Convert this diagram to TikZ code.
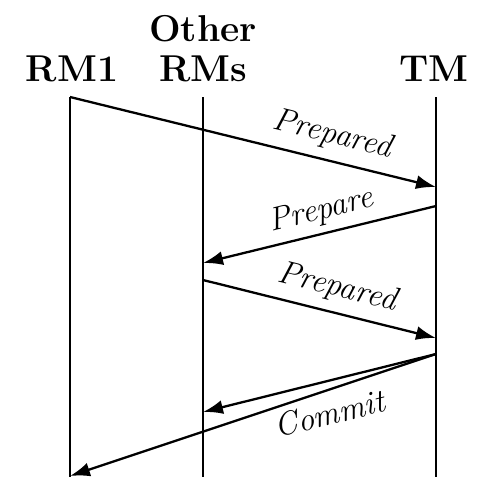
\documentclass[tikz,border=0pt]{standalone}
\usetikzlibrary{arrows.meta}
\begin{document}
\begin{tikzpicture}[x=0.5pt,y=-0.5pt,
  hdr/.style={font=\fontsize{18.7}{20}\selectfont\bfseries, align=center, inner sep=0pt, text depth=0pt, anchor=south},
  life/.style={line width=1.15pt},
  msg/.style={line width=1.15pt, -{Latex[length=10pt,width=7pt]}},
  lbl/.style={font=\fontsize{16.4}{18}\selectfont\itshape, sloped, inner sep=0pt}]
\useasboundingbox (0,0) rectangle (502,494);
% headers
\node[hdr] (h1) at (72,82) {RM1};
\node[hdr] (h2) at (203,82) {Other\\RMs};
\node[hdr] (h3) at (434,82) {TM};
% lifelines
\coordinate (a0) at (70,97);  \coordinate (a1) at (70,477);
\coordinate (b0) at (203,97); \coordinate (b1) at (203,477);
\coordinate (c0) at (436,97); \coordinate (c1) at (436,477);
\draw[life] (a0) -- (a1);
\draw[life] (b0) -- (b1);
\draw[life] (c0) -- (c1);
% message points
\coordinate (m1s) at (70,97);   \coordinate (m1e) at (436,187);
\coordinate (m2s) at (436,206); \coordinate (m2e) at (203,263);
\coordinate (m3s) at (203,280); \coordinate (m3e) at (436,338);
\coordinate (m4s) at (436,354); \coordinate (m4e) at (203,412);
\coordinate (m5e) at (70,476);
\draw[msg] (m1s) -- node[lbl, pos=0.70, above=5pt] {Prepared} (m1e);
\draw[msg] (m2s) -- node[lbl, pos=0.47, above=3.3pt] {Prepare} (m2e);
\draw[msg] (m3s) -- node[lbl, pos=0.55, above=4.6pt] {Prepared} (m3e);
\draw[msg] (m4s) -- node[lbl, pos=0.49, below=9.5pt] {Commit} (m4e);
\draw[msg] (m4s) -- (m5e);
\end{tikzpicture}
\end{document}
